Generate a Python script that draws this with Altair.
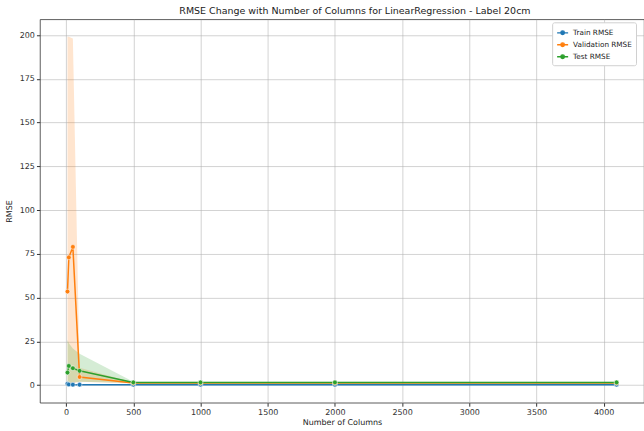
import altair as alt
import pandas as pd

cols = [10, 20, 50, 100, 500, 1000, 2000, 4096]
series_names = ["Train RMSE", "Validation RMSE", "Test RMSE"]
train = [0.8, 0.4, 0.3, 0.3, 0.3, 0.3, 0.3, 0.3]
train_lo = [0.3, 0.1, 0.1, 0.1, 0.1, 0.1, 0.1, 0.1]
train_hi = [1.4, 0.8, 0.6, 0.6, 0.5, 0.5, 0.5, 0.5]
validation = [53.5, 73, 79, 4.7, 1.2, 1.2, 1.2, 1.2]
val_lo = [1.0, 1.0, 1.0, 2.0, 1.0, 1.0, 1.0, 1.0]
val_hi = [199, 199, 198, 10, 1.5, 1.5, 1.5, 1.5]
test = [7.2, 11, 9.7, 8.2, 1.6, 1.6, 1.6, 1.6]
test_lo = [0.5, 1.0, 1.5, 2.0, 1.3, 1.3, 1.3, 1.3]
test_hi = [26, 24, 21, 18, 2.0, 2.0, 2.0, 2.0]
colors = ["#1f77b4", "#ff7f0e", "#2ca02c"]

rows = []
for name, vals, lo, hi in [
    ("Train RMSE", train, train_lo, train_hi),
    ("Validation RMSE", validation, val_lo, val_hi),
    ("Test RMSE", test, test_lo, test_hi),
]:
    for c, v, l, h in zip(cols, vals, lo, hi):
        rows.append({"cols": c, "series": name, "rmse": v, "lo": l, "hi": h})
df = pd.DataFrame(rows)

font = "DejaVu Sans"
xscale = alt.Scale(domain=[-195, 4300], nice=False, zero=False)
yscale = alt.Scale(domain=[-10, 209], nice=False, zero=False)
cscale = alt.Scale(domain=series_names, range=colors)
legend = alt.Legend(
    title=None,
    orient="none",
    legendX=513,
    legendY=3,
    symbolType="M-1,0 L1,0 M-0.33,0 A0.33,0.33 0 1,1 0.33,0 A0.33,0.33 0 1,1 -0.33,0",
    symbolSize=121,
    symbolStrokeWidth=1.3,
    symbolOpacity=1,
    labelFont=font,
    labelFontSize=7.3,
    labelColor="#222",
    labelOffset=4,
    fillColor="white",
    strokeColor="#d0d0d0",
    cornerRadius=2,
    padding=4,
    rowPadding=1,
)
color = alt.Color("series:N", scale=cscale, legend=legend)

x = alt.X(
    "cols:Q",
    scale=xscale,
    axis=alt.Axis(
        title="Number of Columns",
        values=[0, 500, 1000, 1500, 2000, 2500, 3000, 3500, 4000],
        format="d",
    ),
)
y = alt.Y(
    "rmse:Q",
    scale=yscale,
    axis=alt.Axis(title="RMSE", values=[0, 25, 50, 75, 100, 125, 150, 175, 200]),
)

band = alt.Chart(df).mark_area(opacity=0.2).encode(
    x=x,
    y=alt.Y("lo:Q", scale=yscale),
    y2="hi:Q",
    color=color,
)
line = alt.Chart(df).mark_line(strokeWidth=1.5).encode(x=x, y=y, color=color)
pts = alt.Chart(df).mark_point(filled=True, size=22, stroke="white", strokeWidth=0.5, opacity=1).encode(
    x=x, y=y, color=color
)

chart = (
    alt.layer(band, line, pts)
    .properties(
        width=605,
        height=384,
        padding={"left": 40, "top": 19, "right": 0, "bottom": 28},
        autosize=alt.AutoSizeParams(type="none"),
        title=alt.TitleParams(
            "RMSE Change with Number of Columns for LinearRegression - Label 20cm",
            font=font,
            fontSize=9.5,
            fontWeight="normal",
            color="#222",
            offset=4,
            dx=13,
        ),
    )
    .configure_view(stroke="#333", strokeWidth=0.8)
    .configure_axis(
        labelFont=font,
        labelFontSize=8,
        labelColor="#333",
        titleFont=font,
        titleFontSize=8,
        titleFontWeight="normal",
        titleColor="#222",
        gridColor="#b0b0b0",
        gridWidth=0.8,
        gridOpacity=0.7,
        domain=False,
        tickColor="#333",
        tickSize=3.5,
        labelPadding=2,
    )
    .configure_axisX(titlePadding=2)
    .configure_axisY(titlePadding=6)
)

chart.save("out.html", embed_options={"renderer": "svg", "actions": False})
